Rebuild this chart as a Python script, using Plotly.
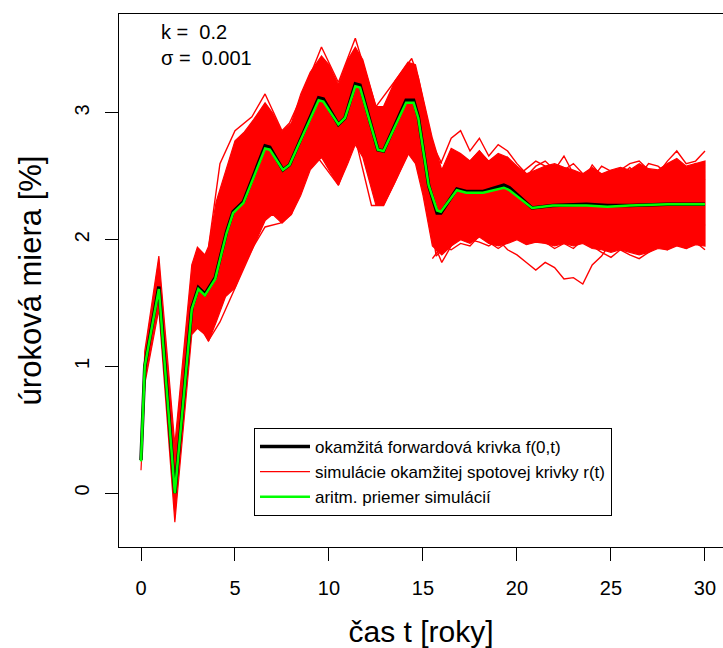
import plotly.graph_objects as go

# ---------------- data ----------------
mean_t = [0, 0.2, 0.95, 1.8, 2.7, 3.05, 3.4, 3.95, 4.55, 4.9, 5.45, 6.6, 6.85, 7.55, 7.9,
          9.45, 9.7, 10.5, 10.85, 11.4, 11.65, 12.6, 12.9, 14.1, 14.5, 14.75, 15.3, 15.75,
          15.95, 16.8, 17.3, 18.2, 19.3, 19.6, 20.8, 21.9, 23.7, 24.8, 26.0, 28.0, 30.0]
mean_y = [0.25, 1.0, 1.61, 0.0, 1.45, 1.61, 1.56, 1.69, 2.05, 2.21, 2.29, 2.72, 2.71, 2.55, 2.59,
          3.10, 3.09, 2.91, 2.96, 3.21, 3.20, 2.71, 2.70, 3.08, 3.08, 2.96, 2.43, 2.23,
          2.22, 2.39, 2.37, 2.37, 2.41, 2.39, 2.25, 2.27, 2.27, 2.26, 2.27, 2.28, 2.28]
fwd_y = [0.26, 1.0, 1.63, 0.0, 1.46, 1.62, 1.57, 1.70, 2.06, 2.22, 2.30, 2.74, 2.73, 2.55, 2.59,
         3.12, 3.11, 2.91, 2.96, 3.23, 3.22, 2.71, 2.70, 3.10, 3.10, 2.97, 2.43, 2.21,
         2.21, 2.40, 2.38, 2.38, 2.43, 2.41, 2.25, 2.27, 2.28, 2.27, 2.27, 2.28, 2.28]

# dense core of the simulated curves
band_t = [0, 0.2, 0.95, 1.8, 2.7, 3.0, 3.4, 3.6, 4.0, 4.5, 5.0, 5.5, 6.0, 6.6, 7.0, 7.5, 8.0,
          8.5, 9.0, 9.6, 10.0, 10.5, 11.0, 11.4, 11.8, 12.5, 12.9, 13.5, 14.2, 14.6, 15.0,
          15.5, 16, 16.5, 17, 17.5, 18, 18.5, 19, 19.5, 20, 20.5, 21, 21.5, 22, 22.5, 23,
          23.5, 24, 24.5, 25, 25.5, 26, 26.5, 27, 27.5, 28, 28.5, 29, 29.5, 30]
band_top = [0.30, 1.12, 1.87, 0.38, 1.80, 1.94, 1.88, 1.95, 2.30, 2.55, 2.78, 2.85, 2.95, 3.08,
            3.00, 2.85, 2.92, 3.15, 3.32, 3.45, 3.38, 3.22, 3.42, 3.52, 3.42, 3.05, 3.05, 3.25,
            3.40, 3.38, 3.12,
            2.80, 2.55, 2.72, 2.68, 2.62, 2.70, 2.62, 2.68, 2.65, 2.58, 2.52, 2.55, 2.58, 2.60,
            2.57, 2.55, 2.52, 2.57, 2.52, 2.55, 2.57, 2.55, 2.60, 2.56, 2.55, 2.60, 2.64, 2.58,
            2.60, 2.62]
band_bot = [0.18, 0.86, 1.45, -0.23, 1.25, 1.30, 1.25, 1.20, 1.35, 1.55, 1.62, 1.80, 1.95, 2.15,
            2.20, 2.13, 2.20, 2.35, 2.55, 2.65, 2.55, 2.43, 2.60, 2.75, 2.65, 2.27, 2.27, 2.45,
            2.68, 2.60, 2.35,
            1.95, 1.88, 1.95, 2.00, 1.97, 2.02, 1.97, 1.95, 1.97, 2.00, 1.96, 1.98, 1.97, 1.95,
            1.97, 1.95, 1.97, 1.93, 1.92, 1.90, 1.92, 1.90, 1.88, 1.90, 1.93, 1.92, 1.95, 1.93,
            1.96, 1.95]

# individual visible simulation paths at the ragged edges
late_t = [15.5, 16, 16.5, 17, 17.5, 18, 18.5, 19, 19.5, 20, 20.5, 21, 21.5, 22, 22.5, 23,
          23.5, 24, 24.5, 25, 25.5, 26, 26.5, 27, 27.5, 28, 28.5, 29, 29.5, 30]
sim_a = [2.55, 2.62, 2.80, 2.86, 2.70, 2.80, 2.66, 2.75, 2.70, 2.60, 2.52, 2.45, 2.50, 2.58, 2.48,
         2.42, 2.50, 2.45, 2.38, 2.45, 2.52, 2.48, 2.56, 2.48, 2.40, 2.46, 2.55, 2.50, 2.42, 2.48]
sim_b = [2.30, 2.45, 2.52, 2.60, 2.55, 2.48, 2.58, 2.50, 2.62, 2.55, 2.50, 2.58, 2.62, 2.55, 2.66,
         2.52, 2.45, 2.59, 2.50, 2.45, 2.55, 2.60, 2.62, 2.55, 2.52, 2.62, 2.70, 2.60, 2.62, 2.70]
sim_c = [2.00, 1.82, 1.95, 2.05, 2.00, 1.98, 1.95, 2.00, 1.92, 1.88, 1.82, 1.76, 1.82, 1.78, 1.69,
         1.70, 1.65, 1.80, 1.87, 1.98, 2.05, 2.10, 2.00, 2.08, 2.12, 2.05, 2.15, 2.10, 2.05, 2.12]
sim_d = [1.85, 1.95, 1.92, 1.97, 1.95, 2.03, 1.98, 1.93, 1.98, 2.02, 1.97, 2.00, 1.98, 1.93, 1.97,
         1.93, 2.00, 1.95, 1.90, 1.86, 1.92, 1.88, 1.85, 1.90, 1.95, 1.92, 1.97, 1.93, 1.98, 1.92]
sim_e = [2.45, 2.55, 2.65, 2.58, 2.62, 2.70, 2.60, 2.58, 2.65, 2.50, 2.56, 2.62, 2.58, 2.50, 2.55,
         2.60, 2.52, 2.48, 2.58, 2.54, 2.50, 2.57, 2.50, 2.60, 2.58, 2.52, 2.48, 2.55, 2.60, 2.58]

hi_t = [3.6, 4.2, 5.0, 5.9, 6.6, 7.5, 7.9, 8.6, 9.6, 10.5, 11.4, 12.5, 13.5, 14.4, 14.75, 15.5, 16.0]
sim_hi = [1.95, 2.60, 2.86, 2.97, 3.15, 2.86, 2.92, 3.15, 3.52, 3.24, 3.59, 3.05, 3.25, 3.43, 3.28, 2.75, 2.60]
lo_t = [3.0, 3.58, 4.2, 5.0, 6.0, 6.6, 7.4, 8.0, 8.46, 9.3, 10.5, 11.4, 12.26, 12.9, 14.3, 15.0, 15.7, 16.2]
sim_lo = [1.35, 1.20, 1.35, 1.62, 1.95, 2.10, 2.13, 2.20, 2.40, 2.67, 2.43, 2.80, 2.27, 2.27, 2.70, 2.60, 1.87, 1.95]

x_ticks = [0, 5, 10, 15, 20, 25, 30]
y_ticks = [0, 1, 2, 3]

name_fwd = "okamžitá forwardová krivka f(0,t)"
name_sim = "simulácie okamžitej spotovej krivky r(t)"
name_mean = "aritm. priemer simulácií"

RED = "#FF0000"
FONT = "Liberation Sans, Arial, Helvetica, sans-serif"

fig = go.Figure()

# dense band of simulations
fig.add_trace(go.Scatter(
    x=band_t + band_t[::-1], y=band_top + band_bot[::-1],
    mode="lines", fill="toself", fillcolor=RED,
    line=dict(color=RED, width=1.2), showlegend=False, hoverinfo="skip"))

for i, (tt, yy) in enumerate([(late_t, sim_a), (late_t, sim_b), (late_t, sim_c), (late_t, sim_d),
                              (late_t, sim_e), (hi_t, sim_hi), (lo_t, sim_lo)]):
    fig.add_trace(go.Scatter(
        x=tt, y=yy, mode="lines", line=dict(color=RED, width=1.4),
        name=name_sim, showlegend=(i == 0), legendrank=2))

fig.add_trace(go.Scatter(x=mean_t, y=fwd_y, mode="lines", name=name_fwd,
                         line=dict(color="black", width=3.5), legendrank=1))
fig.add_trace(go.Scatter(x=mean_t, y=mean_y, mode="lines", name=name_mean,
                         line=dict(color="#00FF00", width=2.5), legendrank=3))

fig.add_annotation(x=0.066, y=0.99, xref="paper", yref="paper", xanchor="left", yanchor="top",
                   text="k =\u00a0 0.2<br>σ =\u00a0 0.001", showarrow=False, align="left",
                   font=dict(family=FONT, size=20, color="black"))

fig.update_layout(
    width=723, height=648,
    margin=dict(l=119, r=0, t=14, b=101, pad=0),
    paper_bgcolor="white", plot_bgcolor="white",
    font=dict(family=FONT, color="black"),
    showlegend=True,
    legend=dict(x=0.2235, y=0.2233, xanchor="left", yanchor="top",
                bordercolor="black", borderwidth=1, bgcolor="white",
                font=dict(family=FONT, size=17, color="black"),
                tracegroupgap=0, itemwidth=50),
    xaxis=dict(range=[-1.170, 30.958], tickvals=x_ticks, ticktext=[str(v) for v in x_ticks],
               showgrid=False, zeroline=False, showline=True, linecolor="black", linewidth=1,
               mirror=True, ticks="outside", ticklen=13, tickwidth=1, tickcolor="black",
               tickfont=dict(size=20, family=FONT), ticklabelstandoff=10,
               title=dict(text="čas t [roky]", font=dict(size=30, family=FONT), standoff=22)),
    yaxis=dict(range=[-0.426, 3.781], tickvals=y_ticks, ticktext=[str(v) for v in y_ticks],
               showgrid=False, zeroline=False, showline=True, linecolor="black", linewidth=1,
               mirror=False, ticks="outside", ticklen=13, tickwidth=1, tickcolor="black",
               tickangle=-90, tickfont=dict(size=20, family=FONT), ticklabelstandoff=8,
               title=dict(text="úroková miera [%]", font=dict(size=31, family=FONT), standoff=20)),
)

fig.write_html("out.html")
